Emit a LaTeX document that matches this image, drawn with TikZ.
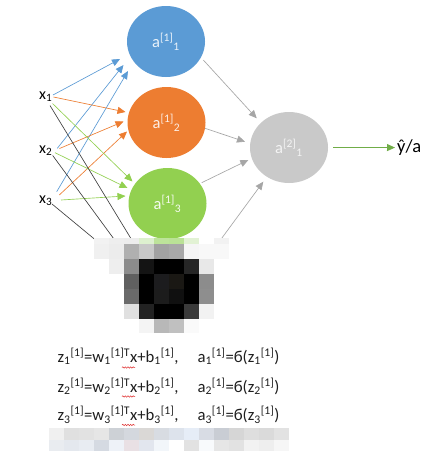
\documentclass[tikz,border=0pt]{standalone}
\usepackage{fontspec}
\setmainfont{Carlito}
\usetikzlibrary{arrows.meta,shapes.geometric,decorations.pathmorphing}
\definecolor{nblue}{HTML}{5B9BD5}
\definecolor{norange}{HTML}{ED7D31}
\definecolor{ngreen}{HTML}{92D050}
\definecolor{ngrey}{HTML}{C9C9C9}
\definecolor{lgrey}{HTML}{A6A6A6}
\definecolor{lblack}{HTML}{404040}
\definecolor{outgreen}{HTML}{70AD47}
\definecolor{squig}{HTML}{E03030}
\newcommand\mosaicrow[4]{% x0, y top, y bottom, list i/hex
  \foreach \i/\h in {#4} {\definecolor{mc}{HTML}{\h}\fill[mc] ({#1+15*\i},#2) rectangle ({#1+15+15*\i},#3);}}
\begin{document}
\begin{tikzpicture}[x=1pt,y=-1pt,
  neuron/.style={ellipse,minimum width=78pt,minimum height=71pt,inner sep=0pt,font=\fontsize{16.5}{19}\selectfont},
  tipped/.style={-{Triangle[length=8pt,width=7pt]}},
  conn/.style={line width=0.65pt},
  inlab/.style={anchor=base west,inner sep=0pt,font=\fontsize{16}{19}\selectfont},
  eqn/.style={anchor=base west,inner sep=0pt,font=\fontsize{16.7}{20}\selectfont,text=black!88},
  wavy/.style={squig,line width=0.5pt,decorate,decoration={snake,amplitude=0.7pt,segment length=2.6pt}}]
\useasboundingbox (0,0) rectangle (433,461);
\fill[white] (0,0) rectangle (433,461);

% neurons
\node[neuron,fill=nblue,text=white!88!nblue] (a11) at (166,41.5) {a\textsuperscript{[1]}\textsubscript{1}};
\node[neuron,fill=norange,text=white!88!norange] (a12) at (166.5,122.5) {a\textsuperscript{[1]}\textsubscript{2}};
\node[neuron,fill=ngreen,text=white!92!ngreen] (a13) at (167.5,203.5) {a\textsuperscript{[1]}\textsubscript{3}};
\node[neuron,fill=ngrey,text=white!80!ngrey] (a21) at (289,147.5) {a\textsuperscript{[2]}\textsubscript{1}};
\coordinate (a14) at (167,287);

% inputs
\node[inlab] (x1) at (39,99) {x\textsubscript{1}};
\node[inlab] (x2) at (39,153) {x\textsubscript{2}};
\node[inlab] (x3) at (39,203) {x\textsubscript{3}};
\node[anchor=base west,inner sep=0pt,font=\fontsize{18.5}{21}\selectfont] (yhat) at (397,152.5) {ŷ/a};

% start points
\coordinate (x1b) at (53,95);   \coordinate (x1o) at (53.5,97);  \coordinate (x1g) at (52.5,103.5); \coordinate (x1k) at (50,105.5);
\coordinate (x2b) at (57.3,148.3); \coordinate (x2o) at (59.5,148.5); \coordinate (x2g) at (55,152.7); \coordinate (x2k) at (52.7,155.5);
\coordinate (x3b) at (56.7,191.7); \coordinate (x3o) at (59.3,195); \coordinate (x3g) at (61,200); \coordinate (x3k) at (52,204);
% end points
\coordinate (b1t) at (120,59);  \coordinate (b2t) at (123.5,65); \coordinate (b3t) at (128,71);
\coordinate (o1t) at (125.5,112); \coordinate (o2t) at (123.5,121.5); \coordinate (o3t) at (127,131.5);
\coordinate (g1t) at (132.5,181.5); \coordinate (g2t) at (127.5,188); \coordinate (g3t) at (125.5,196);
\coordinate (k1t) at (158,283); \coordinate (k2t) at (144,280); \coordinate (k3t) at (150,285);
\coordinate (h1s) at (203.3,60);   \coordinate (h1t) at (256.7,118.3);
\coordinate (h2s) at (205,128.3);  \coordinate (h2t) at (245,141.7);
\coordinate (h3s) at (201.7,182.7); \coordinate (h3t) at (248.3,160);
\coordinate (h4s) at (205,261);    \coordinate (h4t) at (263.3,181.7);

% input connectors
\draw[conn,tipped,nblue] (x1b) -- (b1t);
\draw[conn,tipped,nblue] (x2b) -- (b2t);
\draw[conn,tipped,nblue] (x3b) -- (b3t);
\draw[conn,tipped,norange] (x1o) -- (o1t);
\draw[conn,tipped,norange] (x2o) -- (o2t);
\draw[conn,tipped,norange] (x3o) -- (o3t);
\draw[conn,tipped,ngreen] (x1g) -- (g1t);
\draw[conn,tipped,ngreen] (x2g) -- (g2t);
\draw[conn,tipped,ngreen] (x3g) -- (g3t);
\draw[conn,lblack] (x1k) -- (k1t);
\draw[conn,lblack] (x2k) -- (k2t);
\draw[conn,lblack] (x3k) -- (k3t);
% hidden to output
\draw[conn,tipped,lgrey] (h1s) -- (h1t);
\draw[conn,tipped,lgrey] (h2s) -- (h2t);
\draw[conn,tipped,lgrey] (h3s) -- (h3t);
\draw[conn,tipped,lgrey] (h4s) -- (h4t);
% output
\draw[line width=0.8pt,tipped,outgreen] ([xshift=5pt]a21.east) -- ([xshift=-2pt]yhat.west);

% pixelated block
\fill[white] (94,238.3) rectangle (229,333);
\mosaicrow{94}{238.3}{244.3}{0/F2F2F2,1/EEEEEE,2/EDEDED,3/DDF0CF,4/BDE39A,5/BAE296,6/E2F2D4,7/FFFFFF,8/F2F2F2}
\mosaicrow{94}{244.3}{259.3}{0/F0F0F0,1/ECECEC,2/B0B0B0,3/C8C8C8,4/A2A2A2,5/A8A8A8,6/F5F5F5,7/F8F8F8,8/F8F8F8}
\mosaicrow{94}{259.3}{274.3}{1/EEEEEE,2/8C8C8C,3/141414,4/000000,5/000000,6/262626,7/E8E8E8}
\mosaicrow{94}{274.3}{289.3}{2/606060,3/000000,4/1C1C1E,5/1A1814,6/000000,7/8C8C8C}
\mosaicrow{94}{289.3}{304.3}{2/6A6A6A,3/000000,4/1C1C1C,5/101010,6/000000,7/8E8E8E}
\mosaicrow{94}{304.3}{319.3}{2/E0E0E0,3/222222,4/000000,5/000000,6/3A3A3A,7/F2F2F2}
\mosaicrow{94}{319.3}{333}{3/F4F4F4,4/B8B8B8,5/C0C0C0,6/FAFAFA}

% equations
\node[eqn] (e1l) at (57.3,362.3) {z\textsubscript{1}\textsuperscript{[1]}=w\textsubscript{1}\textsuperscript{[1]T}x+b\textsubscript{1}\textsuperscript{[1]},};
\node[eqn] (e1r) at (197.3,362.3) {a\textsubscript{1}\textsuperscript{[1]}=б(z\textsubscript{1}\textsuperscript{[1]})};
\node[eqn] (e2l) at (57.3,392.3) {z\textsubscript{2}\textsuperscript{[1]}=w\textsubscript{2}\textsuperscript{[1]T}x+b\textsubscript{2}\textsuperscript{[1]},};
\node[eqn] (e2r) at (197.3,392.3) {a\textsubscript{2}\textsuperscript{[1]}=б(z\textsubscript{2}\textsuperscript{[1]})};
\node[eqn] (e3l) at (57.3,420.7) {z\textsubscript{3}\textsuperscript{[1]}=w\textsubscript{3}\textsuperscript{[1]T}x+b\textsubscript{3}\textsuperscript{[1]},};
\node[eqn] (e3r) at (197.3,420.7) {a\textsubscript{3}\textsuperscript{[1]}=б(z\textsubscript{3}\textsuperscript{[1]})};
\draw[wavy] (122,367.5) -- (135,367.5);
\draw[wavy] (122,396.5) -- (135,396.5);
\draw[wavy] (122,425) -- (135,425);

% lower pixelated strip
\mosaicrow{49.3}{428}{439.5}{0/F0F0F0,1/E0E0E0,2/E2E2E2,3/E6E6E6,4/CDD1D6,5/D4D8DE,6/DAD8D6,7/D8DCE2,8/DDE3EC,9/E6EDF7,10/D8DCE4,11/C9CDD4,12/D6D6D6,13/DEDEDE,14/DADADA,15/E2E2E2}
\mosaicrow{49.3}{439.5}{451}{0/E9ECF0,1/E4E8EE,2/E8ECF2,3/D5DAE2,4/EEF2F8,5/E9E0E4,6/E2E6EE,7/F2F6FA,8/FFFFFF,9/E2E2E2,10/F8FAFC,11/E6E6E6,12/E2E2E2,13/F2F2F2,14/EEEEEE,15/F6F6F6}
\end{tikzpicture}
\end{document}
